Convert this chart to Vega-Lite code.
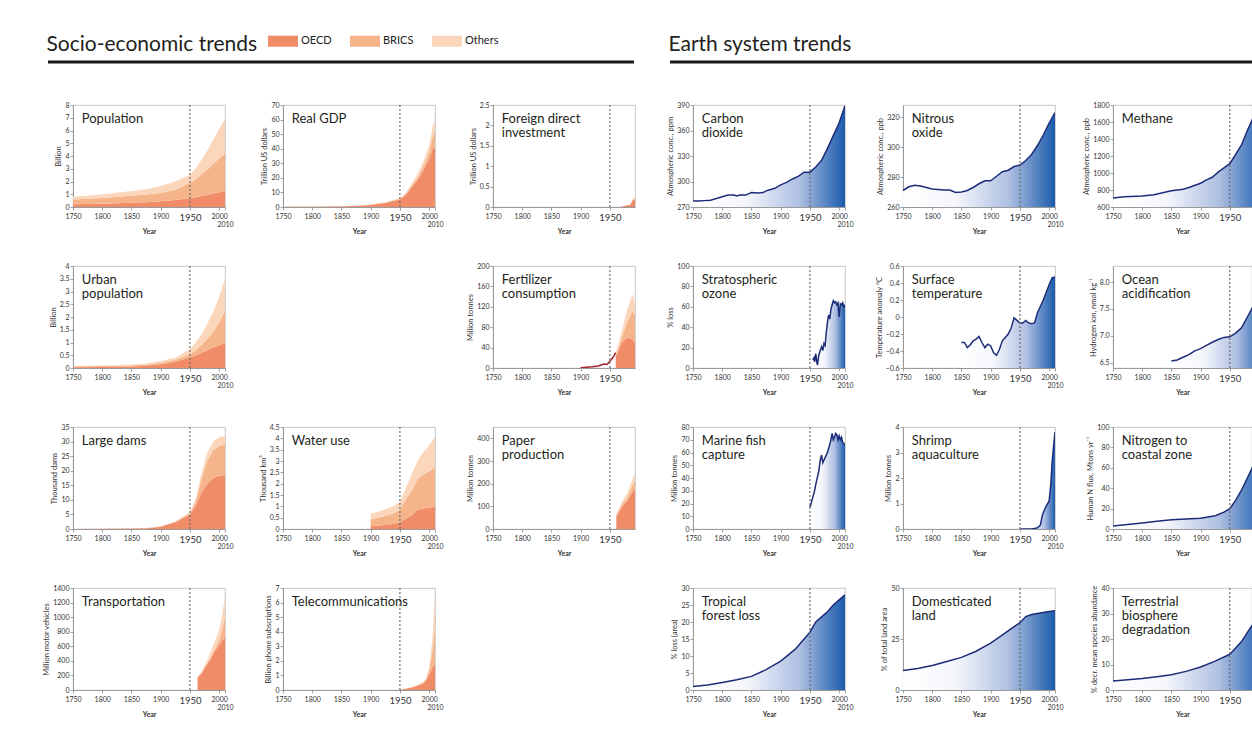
{
"$schema":"https://vega.github.io/schema/vega-lite/v6.json",
"padding":{"left":42,"top":26,"right":0,"bottom":0},
"background":"white",
"bounds":"flush",
"spacing":44,
"config":{
 "font":"Lato",
 "view":{"stroke":"#b9b9b9","strokeWidth":0.8},
 "axis":{"domainColor":"#8c8c8c","tickColor":"#8c8c8c","labelColor":"#333333","titleColor":"#333333","grid":false,"tickSize":3,"labelFontSize":7,"titleFontSize":7.5,"titleFontWeight":"normal","domainWidth":0.8,"tickWidth":0.8,"labelOverlap":false,"tickCount":20},
 "axisY":{"labelPadding":1,"titlePadding":2,"labelOverlap":false,"tickCount":20},
 "axisX":{"labelOverlap":false,"tickCount":20},
 "legend":{"orient":"none","legendX":195,"legendY":-35,"direction":"horizontal","symbolType":"M-1,-0.37H1V0.37H-1Z","symbolSize":900,"symbolStrokeWidth":0,"symbolOpacity":1,"labelFontSize":11,"labelColor":"#222222","labelOffset":3,"columnPadding":18}
},
"datasets":{
 "groups":[{"group":"OECD","k":1},{"group":"BRICS","k":2},{"group":"Others","k":3}],
 "pop":[
  {"year":1750,"OECD":0.22,"BRICS":0.36,"Others":0.22},
  {"year":1800,"OECD":0.26,"BRICS":0.45,"Others":0.27},
  {"year":1850,"OECD":0.33,"BRICS":0.55,"Others":0.38},
  {"year":1875,"OECD":0.38,"BRICS":0.6,"Others":0.42},
  {"year":1900,"OECD":0.45,"BRICS":0.65,"Others":0.55},
  {"year":1925,"OECD":0.55,"BRICS":0.8,"Others":0.65},
  {"year":1950,"OECD":0.7,"BRICS":1.2,"Others":0.62},
  {"year":1960,"OECD":0.77,"BRICS":1.4,"Others":0.85},
  {"year":1970,"OECD":0.86,"BRICS":1.7,"Others":1.14},
  {"year":1980,"OECD":0.95,"BRICS":2.0,"Others":1.5},
  {"year":1990,"OECD":1.05,"BRICS":2.33,"Others":1.92},
  {"year":2000,"OECD":1.15,"BRICS":2.65,"Others":2.32},
  {"year":2010,"OECD":1.24,"BRICS":2.95,"Others":2.71}],
 "gdp":[
  {"year":1750,"OECD":0.15,"BRICS":0.05,"Others":0.05},
  {"year":1800,"OECD":0.2,"BRICS":0.08,"Others":0.05},
  {"year":1850,"OECD":0.45,"BRICS":0.1,"Others":0.1},
  {"year":1875,"OECD":0.75,"BRICS":0.12,"Others":0.13},
  {"year":1900,"OECD":1.4,"BRICS":0.15,"Others":0.25},
  {"year":1913,"OECD":2.2,"BRICS":0.2,"Others":0.3},
  {"year":1925,"OECD":2.7,"BRICS":0.2,"Others":0.3},
  {"year":1940,"OECD":4.3,"BRICS":0.3,"Others":0.4},
  {"year":1950,"OECD":5.2,"BRICS":0.5,"Others":0.5},
  {"year":1960,"OECD":8.3,"BRICS":0.8,"Others":0.9},
  {"year":1970,"OECD":13.3,"BRICS":1.2,"Others":1.5},
  {"year":1980,"OECD":18.5,"BRICS":1.8,"Others":2.4},
  {"year":1990,"OECD":25,"BRICS":2.8,"Others":3.2},
  {"year":2000,"OECD":33,"BRICS":5,"Others":4.5},
  {"year":2007,"OECD":41,"BRICS":9,"Others":7},
  {"year":2009,"OECD":40,"BRICS":10.5,"Others":7.5},
  {"year":2010,"OECD":43.5,"BRICS":11,"Others":8.5}],
 "fdi":[
  {"year":1970,"OECD":0.012,"BRICS":0.001,"Others":0.002},
  {"year":1975,"OECD":0.025,"BRICS":0.002,"Others":0.004},
  {"year":1980,"OECD":0.045,"BRICS":0.003,"Others":0.007},
  {"year":1985,"OECD":0.05,"BRICS":0.004,"Others":0.008},
  {"year":1988,"OECD":0.14,"BRICS":0.006,"Others":0.014},
  {"year":1990,"OECD":0.18,"BRICS":0.01,"Others":0.02},
  {"year":1993,"OECD":0.17,"BRICS":0.04,"Others":0.025},
  {"year":1995,"OECD":0.22,"BRICS":0.05,"Others":0.04},
  {"year":2000,"OECD":1.15,"BRICS":0.08,"Others":0.17},
  {"year":2005,"OECD":0.7,"BRICS":0.15,"Others":0.12},
  {"year":2007,"OECD":1.6,"BRICS":0.25,"Others":0.25},
  {"year":2010,"OECD":0.8,"BRICS":0.3,"Others":0.2}],
 "urban":[
  {"year":1750,"OECD":0.03,"BRICS":0.035,"Others":0.015},
  {"year":1800,"OECD":0.04,"BRICS":0.04,"Others":0.02},
  {"year":1850,"OECD":0.06,"BRICS":0.05,"Others":0.03},
  {"year":1875,"OECD":0.09,"BRICS":0.05,"Others":0.04},
  {"year":1900,"OECD":0.15,"BRICS":0.06,"Others":0.06},
  {"year":1925,"OECD":0.25,"BRICS":0.07,"Others":0.08},
  {"year":1950,"OECD":0.42,"BRICS":0.12,"Others":0.2},
  {"year":1960,"OECD":0.5,"BRICS":0.2,"Others":0.3},
  {"year":1970,"OECD":0.6,"BRICS":0.3,"Others":0.42},
  {"year":1980,"OECD":0.7,"BRICS":0.45,"Others":0.6},
  {"year":1990,"OECD":0.8,"BRICS":0.62,"Others":0.8},
  {"year":2000,"OECD":0.89,"BRICS":0.9,"Others":1.0},
  {"year":2010,"OECD":0.97,"BRICS":1.28,"Others":1.25}],
 "fert":[
  {"year":1960,"OECD":22,"BRICS":3,"Others":5},
  {"year":1965,"OECD":35,"BRICS":6,"Others":8},
  {"year":1970,"OECD":48,"BRICS":10,"Others":12},
  {"year":1975,"OECD":55,"BRICS":20,"Others":18},
  {"year":1980,"OECD":60,"BRICS":32,"Others":24},
  {"year":1985,"OECD":58,"BRICS":45,"Others":28},
  {"year":1988,"OECD":58,"BRICS":55,"Others":32},
  {"year":1990,"OECD":55,"BRICS":55,"Others":30},
  {"year":1993,"OECD":48,"BRICS":55,"Others":22},
  {"year":1995,"OECD":46,"BRICS":60,"Others":25},
  {"year":2000,"OECD":45,"BRICS":70,"Others":25},
  {"year":2005,"OECD":42,"BRICS":80,"Others":28},
  {"year":2010,"OECD":38,"BRICS":95,"Others":35}],
 "fertw":[
  {"year":1900,"value":0.5},{"year":1910,"value":1.5},{"year":1920,"value":2.5},{"year":1930,"value":4},
  {"year":1935,"value":6},{"year":1940,"value":8},{"year":1945,"value":7},{"year":1950,"value":13},
  {"year":1955,"value":20},{"year":1960,"value":30}],
 "dams":[
  {"year":1750,"OECD":0.02,"BRICS":0.005,"Others":0.005},
  {"year":1800,"OECD":0.05,"BRICS":0.01,"Others":0.01},
  {"year":1850,"OECD":0.15,"BRICS":0.02,"Others":0.02},
  {"year":1875,"OECD":0.3,"BRICS":0.03,"Others":0.03},
  {"year":1900,"OECD":0.8,"BRICS":0.05,"Others":0.1},
  {"year":1925,"OECD":2.3,"BRICS":0.15,"Others":0.2},
  {"year":1950,"OECD":5.0,"BRICS":0.4,"Others":0.4},
  {"year":1960,"OECD":8,"BRICS":1.5,"Others":1},
  {"year":1970,"OECD":12.5,"BRICS":5,"Others":1.8},
  {"year":1980,"OECD":15.5,"BRICS":8,"Others":2.8},
  {"year":1990,"OECD":17.4,"BRICS":9.6,"Others":3},
  {"year":2000,"OECD":18.3,"BRICS":10.2,"Others":3},
  {"year":2010,"OECD":18.5,"BRICS":10.4,"Others":3}],
 "water":[
  {"year":1900,"OECD":0.12,"BRICS":0.31,"Others":0.24},
  {"year":1910,"OECD":0.14,"BRICS":0.35,"Others":0.26},
  {"year":1920,"OECD":0.16,"BRICS":0.38,"Others":0.28},
  {"year":1930,"OECD":0.19,"BRICS":0.42,"Others":0.3},
  {"year":1940,"OECD":0.23,"BRICS":0.48,"Others":0.32},
  {"year":1950,"OECD":0.3,"BRICS":0.55,"Others":0.35},
  {"year":1960,"OECD":0.45,"BRICS":0.85,"Others":0.5},
  {"year":1970,"OECD":0.6,"BRICS":1.1,"Others":0.7},
  {"year":1980,"OECD":0.85,"BRICS":1.35,"Others":0.8},
  {"year":1990,"OECD":0.9,"BRICS":1.5,"Others":1.0},
  {"year":2000,"OECD":0.95,"BRICS":1.6,"Others":1.15},
  {"year":2010,"OECD":0.97,"BRICS":1.75,"Others":1.35}],
 "paper":[
  {"year":1961,"OECD":55,"BRICS":5,"Others":7},
  {"year":1970,"OECD":95,"BRICS":10,"Others":12},
  {"year":1980,"OECD":125,"BRICS":15,"Others":20},
  {"year":1990,"OECD":170,"BRICS":30,"Others":30},
  {"year":1993,"OECD":175,"BRICS":35,"Others":32},
  {"year":2000,"OECD":200,"BRICS":60,"Others":40},
  {"year":2010,"OECD":190,"BRICS":130,"Others":60}],
 "transport":[
  {"year":1963,"OECD":165,"BRICS":5,"Others":10},
  {"year":1970,"OECD":230,"BRICS":8,"Others":20},
  {"year":1980,"OECD":360,"BRICS":15,"Others":45},
  {"year":1985,"OECD":420,"BRICS":20,"Others":70},
  {"year":1990,"OECD":500,"BRICS":30,"Others":90},
  {"year":1995,"OECD":560,"BRICS":45,"Others":110},
  {"year":2000,"OECD":620,"BRICS":70,"Others":140},
  {"year":2005,"OECD":680,"BRICS":140,"Others":200},
  {"year":2010,"OECD":725,"BRICS":300,"Others":260}],
 "telecom":[
  {"year":1950,"OECD":0.02,"BRICS":0.001,"Others":0.003},
  {"year":1960,"OECD":0.08,"BRICS":0.003,"Others":0.01},
  {"year":1970,"OECD":0.17,"BRICS":0.01,"Others":0.02},
  {"year":1980,"OECD":0.3,"BRICS":0.02,"Others":0.04},
  {"year":1990,"OECD":0.45,"BRICS":0.04,"Others":0.07},
  {"year":1995,"OECD":0.65,"BRICS":0.1,"Others":0.1},
  {"year":2000,"OECD":1.05,"BRICS":0.3,"Others":0.25},
  {"year":2005,"OECD":1.5,"BRICS":1.0,"Others":0.8},
  {"year":2010,"OECD":1.8,"BRICS":2.5,"Others":2.2}],
 "co2":[
  {"year":1750,"value":277},{"year":1760,"value":277},{"year":1770,"value":277.5},{"year":1780,"value":278},{"year":1790,"value":280},
  {"year":1800,"value":282},{"year":1810,"value":284},{"year":1820,"value":284},{"year":1825,"value":283},{"year":1830,"value":284},
  {"year":1840,"value":284},{"year":1850,"value":287},{"year":1860,"value":286.5},{"year":1870,"value":287},{"year":1875,"value":289},
  {"year":1880,"value":290},{"year":1890,"value":292},{"year":1900,"value":296},{"year":1910,"value":299},{"year":1920,"value":303},
  {"year":1930,"value":306},{"year":1940,"value":311},{"year":1950,"value":311},{"year":1960,"value":317},{"year":1970,"value":325},
  {"year":1980,"value":339},{"year":1990,"value":354},{"year":2000,"value":369},{"year":2010,"value":389}],
 "n2o":[
  {"year":1750,"value":271},{"year":1760,"value":273.5},{"year":1770,"value":274.5},{"year":1780,"value":274},{"year":1790,"value":273},
  {"year":1800,"value":272},{"year":1810,"value":271.7},{"year":1820,"value":271.3},{"year":1830,"value":271.3},{"year":1840,"value":269.7},
  {"year":1850,"value":270},{"year":1860,"value":271},{"year":1870,"value":273},{"year":1880,"value":275.5},{"year":1890,"value":277.5},
  {"year":1900,"value":277.5},{"year":1910,"value":280.5},{"year":1920,"value":283.5},{"year":1930,"value":284.5},{"year":1940,"value":287},
  {"year":1950,"value":288},{"year":1960,"value":291},{"year":1970,"value":295},{"year":1980,"value":301},{"year":1990,"value":308},
  {"year":2000,"value":316},{"year":2010,"value":323}],
 "ch4":[
  {"year":1750,"value":705},{"year":1770,"value":720},{"year":1800,"value":730},{"year":1820,"value":745},{"year":1850,"value":790},
  {"year":1870,"value":810},{"year":1880,"value":830},{"year":1900,"value":880},{"year":1910,"value":920},{"year":1920,"value":950},
  {"year":1930,"value":1010},{"year":1940,"value":1060},{"year":1950,"value":1110},{"year":1960,"value":1220},{"year":1970,"value":1330},
  {"year":1980,"value":1500},{"year":1990,"value":1650},{"year":2000,"value":1750},{"year":2010,"value":1800}],
 "ozone":[
  {"year":1955,"value":8},{"year":1957,"value":10},{"year":1958,"value":6},{"year":1960,"value":14},{"year":1962,"value":5},
  {"year":1963,"value":3},{"year":1965,"value":12},{"year":1968,"value":18},{"year":1970,"value":21},{"year":1972,"value":17},
  {"year":1974,"value":24},{"year":1976,"value":22},{"year":1978,"value":35},{"year":1980,"value":45},{"year":1982,"value":52},
  {"year":1984,"value":48},{"year":1986,"value":58},{"year":1988,"value":62},{"year":1990,"value":66},{"year":1992,"value":64},
  {"year":1994,"value":65},{"year":1996,"value":62},{"year":1998,"value":64},{"year":2000,"value":50},{"year":2002,"value":63},
  {"year":2004,"value":62},{"year":2006,"value":64},{"year":2008,"value":60},{"year":2010,"value":62}],
 "temp":[
  {"year":1850,"value":-0.3},{"year":1855,"value":-0.3},{"year":1860,"value":-0.36},{"year":1865,"value":-0.33},{"year":1870,"value":-0.28},
  {"year":1875,"value":-0.26},{"year":1880,"value":-0.23},{"year":1885,"value":-0.3},{"year":1890,"value":-0.36},{"year":1895,"value":-0.32},
  {"year":1900,"value":-0.34},{"year":1905,"value":-0.42},{"year":1910,"value":-0.45},{"year":1915,"value":-0.38},{"year":1920,"value":-0.28},
  {"year":1930,"value":-0.2},{"year":1935,"value":-0.13},{"year":1940,"value":-0.01},{"year":1945,"value":-0.04},{"year":1950,"value":-0.07},
  {"year":1955,"value":-0.07},{"year":1960,"value":-0.04},{"year":1965,"value":-0.07},{"year":1970,"value":-0.08},{"year":1975,"value":-0.07},
  {"year":1980,"value":0.05},{"year":1990,"value":0.2},{"year":2000,"value":0.38},{"year":2005,"value":0.46},{"year":2010,"value":0.47}],
 "ocean":[
  {"year":1850,"value":6.53},{"year":1860,"value":6.55},{"year":1870,"value":6.6},{"year":1880,"value":6.65},{"year":1890,"value":6.72},
  {"year":1900,"value":6.76},{"year":1910,"value":6.82},{"year":1920,"value":6.88},{"year":1930,"value":6.93},{"year":1940,"value":6.97},
  {"year":1950,"value":6.98},{"year":1960,"value":7.05},{"year":1970,"value":7.15},{"year":1980,"value":7.35},{"year":1990,"value":7.55},
  {"year":2000,"value":7.75},{"year":2010,"value":8.0}],
 "fish":[
  {"year":1950,"value":17},{"year":1952,"value":20},{"year":1955,"value":25},{"year":1958,"value":30},{"year":1960,"value":35},
  {"year":1965,"value":45},{"year":1968,"value":55},{"year":1970,"value":58},{"year":1972,"value":52},{"year":1975,"value":55},
  {"year":1980,"value":60},{"year":1985,"value":68},{"year":1988,"value":75},{"year":1990,"value":70},{"year":1992,"value":72},
  {"year":1994,"value":75},{"year":1996,"value":74},{"year":1998,"value":70},{"year":2000,"value":73},{"year":2002,"value":70},
  {"year":2004,"value":72},{"year":2006,"value":68},{"year":2008,"value":67},{"year":2010,"value":66}],
 "shrimp":[
  {"year":1950,"value":0},{"year":1970,"value":0.01},{"year":1975,"value":0.02},{"year":1980,"value":0.05},{"year":1985,"value":0.15},
  {"year":1988,"value":0.5},{"year":1990,"value":0.65},{"year":1995,"value":0.9},{"year":2000,"value":1.1},{"year":2003,"value":1.8},
  {"year":2005,"value":2.6},{"year":2007,"value":3.1},{"year":2010,"value":3.8}],
 "nitrogen":[
  {"year":1750,"value":3},{"year":1775,"value":4.5},{"year":1800,"value":6},{"year":1825,"value":7.5},{"year":1850,"value":9},
  {"year":1875,"value":9.8},{"year":1900,"value":10.5},{"year":1925,"value":13},{"year":1940,"value":16.5},{"year":1950,"value":20},
  {"year":1960,"value":28},{"year":1970,"value":38},{"year":1980,"value":50},{"year":1990,"value":62},{"year":2000,"value":72},{"year":2010,"value":80}],
 "forest":[
  {"year":1750,"value":1},{"year":1775,"value":1.5},{"year":1800,"value":2.2},{"year":1825,"value":3},{"year":1850,"value":4},
  {"year":1875,"value":6},{"year":1900,"value":8.5},{"year":1925,"value":12},{"year":1950,"value":17},{"year":1960,"value":20},
  {"year":1970,"value":21.5},{"year":1980,"value":23},{"year":1990,"value":25},{"year":2000,"value":26.5},{"year":2010,"value":28}],
 "domland":[
  {"year":1750,"value":9.5},{"year":1775,"value":10.5},{"year":1800,"value":12},{"year":1825,"value":14},{"year":1850,"value":16},
  {"year":1875,"value":19},{"year":1900,"value":23},{"year":1925,"value":28},{"year":1950,"value":33},{"year":1960,"value":36},
  {"year":1970,"value":37},{"year":1980,"value":37.5},{"year":1990,"value":38},{"year":2000,"value":38.5},{"year":2010,"value":38.8}],
 "terr":[
  {"year":1750,"value":3.5},{"year":1775,"value":4},{"year":1800,"value":4.5},{"year":1825,"value":5.2},{"year":1850,"value":6},
  {"year":1875,"value":7.3},{"year":1900,"value":9},{"year":1925,"value":11.3},{"year":1950,"value":14},{"year":1960,"value":16.5},
  {"year":1970,"value":19},{"year":1980,"value":22.5},{"year":1990,"value":26},{"year":2000,"value":29},{"year":2010,"value":31}]
},
"vconcat":[
 {"hconcat":[
  {"width":561,"height":2,"view":{"stroke":null},
   "title":{"text":"Socio-economic trends","anchor":"start","fontSize":21,"fontWeight":"normal","color":"#231f20","baseline":"alphabetic","offset":-11},
   "data":{"values":[{}]},
   "mark":{"type":"rule","color":"#1a1a1a","strokeWidth":3,"xOffset":-25},
   "encoding":{"x":{"datum":0,"scale":{"domain":[0,1]},"axis":null},"x2":{"datum":1},"y":{"datum":0.5,"scale":{"domain":[0,1]},"axis":null}}},
  {"width":582,"height":2,"view":{"stroke":null},
   "title":{"text":"Earth system trends","anchor":"start","fontSize":21,"fontWeight":"normal","color":"#231f20","baseline":"alphabetic","offset":-11},
   "data":{"values":[{}]},
   "mark":{"type":"rule","color":"#1a1a1a","strokeWidth":3},
   "encoding":{"x":{"datum":0,"scale":{"domain":[0,1]},"axis":null},"x2":{"datum":1},"y":{"datum":0.5,"scale":{"domain":[0,1]},"axis":null}}}
 ],"spacing":36,"bounds":"flush"},
 {"columns":6,"spacing":{"row":59,"column":58},"bounds":"flush","align":"each",
  "concat":[
   {"width":152,"height":102,"layer":[
    {"data":{"name":"pop"},"transform":[{"fold":["OECD","BRICS","Others"],"as":["group","value"]},{"lookup":"group","from":{"data":{"name":"groups"},"key":"group","fields":["k"]}}],
     "mark":{"type":"area","opacity":1,"clip":true},
     "encoding":{
      "x":{"field":"year","type":"quantitative","scale":{"domain":[1750,2010],"nice":false,"zero":false},"axis":{"title":"Year","format":"d","tickCount":20,"values":[1750,1800,1850,1900,1950,2000,2010],"labelFlush":false,"labelOverlap":false,"titleY":20,"titleFontWeight":"bold","titleFontSize":7,"labelFontSize":{"condition":{"test":"datum.value===1950","value":9.5},"value":7},"labelPadding":{"condition":{"test":"datum.value===2010","value":10},"value":2}}},
      "y":{"field":"value","type":"quantitative","stack":"zero","scale":{"domain":[0,8],"nice":false},"axis":{"title":"Billion","format":".4~g","tickCount":20,"values":[0,1,2,3,4,5,6,7,8],"labelOverlap":false}},
      "color":{"field":"group","type":"nominal","scale":{"domain":["OECD","BRICS","Others"],"range":["#f08c68","#f6b48a","#fbd6bb"]},"legend":{"title":null}},
      "order":{"field":"k","type":"quantitative"}}},
    {"data":{"values":[{}]},"mark":{"type":"rule","strokeDash":[2,2],"color":"#6d6d6d","strokeWidth":1.2},"encoding":{"x":{"datum":1950}}},
    {"data":{"values":[{}]},"mark":{"type":"text","text":"Population","align":"left","baseline":"top","fontSize":13,"dy":8,"color":"#231f20","lineHeight":14},"encoding":{"x":{"datum":1765},"y":{"datum":8}}}
   ]},
   {"width":152,"height":102,"layer":[
    {"data":{"name":"gdp"},"transform":[{"fold":["OECD","BRICS","Others"],"as":["group","value"]},{"lookup":"group","from":{"data":{"name":"groups"},"key":"group","fields":["k"]}}],
     "mark":{"type":"area","opacity":1,"clip":true},
     "encoding":{
      "x":{"field":"year","type":"quantitative","scale":{"domain":[1750,2010],"nice":false,"zero":false},"axis":{"title":"Year","format":"d","tickCount":20,"values":[1750,1800,1850,1900,1950,2000,2010],"labelFlush":false,"labelOverlap":false,"titleY":20,"titleFontWeight":"bold","titleFontSize":7,"labelFontSize":{"condition":{"test":"datum.value===1950","value":9.5},"value":7},"labelPadding":{"condition":{"test":"datum.value===2010","value":10},"value":2}}},
      "y":{"field":"value","type":"quantitative","stack":"zero","scale":{"domain":[0,70],"nice":false},"axis":{"title":"Trillion US dollars","format":".4~g","tickCount":20,"values":[0,10,20,30,40,50,60,70],"labelOverlap":false}},
      "color":{"field":"group","type":"nominal","scale":{"domain":["OECD","BRICS","Others"],"range":["#f08c68","#f6b48a","#fbd6bb"]},"legend":{"title":null}},
      "order":{"field":"k","type":"quantitative"}}},
    {"data":{"values":[{}]},"mark":{"type":"rule","strokeDash":[2,2],"color":"#6d6d6d","strokeWidth":1.2},"encoding":{"x":{"datum":1950}}},
    {"data":{"values":[{}]},"mark":{"type":"text","text":"Real GDP","align":"left","baseline":"top","fontSize":13,"dy":8,"color":"#231f20","lineHeight":14},"encoding":{"x":{"datum":1765},"y":{"datum":70}}}
   ]},
   {"width":142,"height":102,"layer":[
    {"data":{"name":"fdi"},"transform":[{"fold":["OECD","BRICS","Others"],"as":["group","value"]},{"lookup":"group","from":{"data":{"name":"groups"},"key":"group","fields":["k"]}}],
     "mark":{"type":"area","opacity":1,"clip":true},
     "encoding":{
      "x":{"field":"year","type":"quantitative","scale":{"domain":[1750,1993],"nice":false,"zero":false},"axis":{"title":"Year","format":"d","tickCount":20,"values":[1750,1800,1850,1900,1950],"labelFlush":false,"labelOverlap":false,"titleY":20,"titleFontWeight":"bold","titleFontSize":7,"labelFontSize":{"condition":{"test":"datum.value===1950","value":9.5},"value":7},"labelPadding":2}},
      "y":{"field":"value","type":"quantitative","stack":"zero","scale":{"domain":[0,2.5],"nice":false},"axis":{"title":"Trillion US dollars","format":".4~g","tickCount":20,"values":[0,0.5,1,1.5,2,2.5],"labelOverlap":false}},
      "color":{"field":"group","type":"nominal","scale":{"domain":["OECD","BRICS","Others"],"range":["#f08c68","#f6b48a","#fbd6bb"]},"legend":{"title":null}},
      "order":{"field":"k","type":"quantitative"}}},
    {"data":{"values":[{}]},"mark":{"type":"rule","strokeDash":[2,2],"color":"#6d6d6d","strokeWidth":1.2},"encoding":{"x":{"datum":1950}}},
    {"data":{"values":[{}]},"mark":{"type":"text","text":["Foreign direct","investment"],"align":"left","baseline":"top","fontSize":13,"dy":8,"color":"#231f20","lineHeight":14},"encoding":{"x":{"datum":1765},"y":{"datum":2.5}}}
   ]},
   {"width":152,"height":102,"layer":[
    {"data":{"name":"co2"},"encoding":{
      "x":{"field":"year","type":"quantitative","scale":{"domain":[1750,2010],"nice":false,"zero":false},"axis":{"title":"Year","format":"d","tickCount":20,"values":[1750,1800,1850,1900,1950,2000,2010],"labelFlush":false,"labelOverlap":false,"titleY":20,"titleFontWeight":"bold","titleFontSize":7,"labelFontSize":{"condition":{"test":"datum.value===1950","value":9.5},"value":7},"labelPadding":{"condition":{"test":"datum.value===2010","value":10},"value":2}}},
      "y":{"field":"value","type":"quantitative","scale":{"domain":[270,390],"nice":false,"zero":false},"axis":{"title":"Atmospheric conc., ppm","format":".4~g","tickCount":20,"values":[270,300,330,360,390],"labelOverlap":false}}},
     "layer":[
      {"mark":{"type":"area","opacity":1,"clip":true,"fill":{"gradient":"linear","x1":0,"y1":0,"x2":1,"y2":0,"stops":[{"offset":0,"color":"#ffffff"},{"offset":0.35,"color":"#f4f6fb"},{"offset":0.7,"color":"#aebfe2"},{"offset":1,"color":"#1b5cac"}]}},"encoding":{"y2":{"datum":270}}},
      {"mark":{"type":"line","color":"#1d2c78","strokeWidth":1.5,"clip":true}}]},
    {"data":{"values":[{}]},"mark":{"type":"rule","strokeDash":[2,2],"color":"#6d6d6d","strokeWidth":1.2},"encoding":{"x":{"datum":1950}}},
    {"data":{"values":[{}]},"mark":{"type":"text","text":["Carbon","dioxide"],"align":"left","baseline":"top","fontSize":13,"dy":8,"color":"#231f20","lineHeight":14},"encoding":{"x":{"datum":1765},"y":{"datum":390}}}
   ]},
   {"width":152,"height":102,"layer":[
    {"data":{"name":"n2o"},"encoding":{
      "x":{"field":"year","type":"quantitative","scale":{"domain":[1750,2010],"nice":false,"zero":false},"axis":{"title":"Year","format":"d","tickCount":20,"values":[1750,1800,1850,1900,1950,2000,2010],"labelFlush":false,"labelOverlap":false,"titleY":20,"titleFontWeight":"bold","titleFontSize":7,"labelFontSize":{"condition":{"test":"datum.value===1950","value":9.5},"value":7},"labelPadding":{"condition":{"test":"datum.value===2010","value":10},"value":2}}},
      "y":{"field":"value","type":"quantitative","scale":{"domain":[260,328],"nice":false,"zero":false},"axis":{"title":"Atmospheric conc., ppb","format":".4~g","tickCount":20,"values":[260,280,300,320],"labelOverlap":false}}},
     "layer":[
      {"mark":{"type":"area","opacity":1,"clip":true,"fill":{"gradient":"linear","x1":0,"y1":0,"x2":1,"y2":0,"stops":[{"offset":0,"color":"#ffffff"},{"offset":0.35,"color":"#f4f6fb"},{"offset":0.7,"color":"#aebfe2"},{"offset":1,"color":"#1b5cac"}]}},"encoding":{"y2":{"datum":260}}},
      {"mark":{"type":"line","color":"#1d2c78","strokeWidth":1.5,"clip":true}}]},
    {"data":{"values":[{}]},"mark":{"type":"rule","strokeDash":[2,2],"color":"#6d6d6d","strokeWidth":1.2},"encoding":{"x":{"datum":1950}}},
    {"data":{"values":[{}]},"mark":{"type":"text","text":["Nitrous","oxide"],"align":"left","baseline":"top","fontSize":13,"dy":8,"color":"#231f20","lineHeight":14},"encoding":{"x":{"datum":1765},"y":{"datum":328}}}
   ]},
   {"width":139,"height":102,"layer":[
    {"data":{"name":"ch4"},"encoding":{
      "x":{"field":"year","type":"quantitative","scale":{"domain":[1750,1988],"nice":false,"zero":false},"axis":{"title":"Year","format":"d","tickCount":20,"values":[1750,1800,1850,1900,1950],"labelFlush":false,"labelOverlap":false,"titleY":20,"titleFontWeight":"bold","titleFontSize":7,"labelFontSize":{"condition":{"test":"datum.value===1950","value":9.5},"value":7},"labelPadding":2}},
      "y":{"field":"value","type":"quantitative","scale":{"domain":[600,1800],"nice":false,"zero":false},"axis":{"title":"Atmospheric conc., ppb","format":"d","tickCount":20,"values":[600,800,1000,1200,1400,1600,1800],"labelOverlap":false}}},
     "layer":[
      {"mark":{"type":"area","opacity":1,"clip":true,"fill":{"gradient":"linear","x1":0,"y1":0,"x2":1,"y2":0,"stops":[{"offset":0,"color":"#ffffff"},{"offset":0.35,"color":"#f4f6fb"},{"offset":0.7,"color":"#aebfe2"},{"offset":1,"color":"#1b5cac"}]}},"encoding":{"y2":{"datum":600}}},
      {"mark":{"type":"line","color":"#1d2c78","strokeWidth":1.5,"clip":true}}]},
    {"data":{"values":[{}]},"mark":{"type":"rule","strokeDash":[2,2],"color":"#6d6d6d","strokeWidth":1.2},"encoding":{"x":{"datum":1950}}},
    {"data":{"values":[{}]},"mark":{"type":"text","text":"Methane","align":"left","baseline":"top","fontSize":13,"dy":8,"color":"#231f20","lineHeight":14},"encoding":{"x":{"datum":1765},"y":{"datum":1800}}}
   ]},

   {"width":152,"height":102,"layer":[
    {"data":{"name":"urban"},"transform":[{"fold":["OECD","BRICS","Others"],"as":["group","value"]},{"lookup":"group","from":{"data":{"name":"groups"},"key":"group","fields":["k"]}}],
     "mark":{"type":"area","opacity":1,"clip":true},
     "encoding":{
      "x":{"field":"year","type":"quantitative","scale":{"domain":[1750,2010],"nice":false,"zero":false},"axis":{"title":"Year","format":"d","tickCount":20,"values":[1750,1800,1850,1900,1950,2000,2010],"labelFlush":false,"labelOverlap":false,"titleY":20,"titleFontWeight":"bold","titleFontSize":7,"labelFontSize":{"condition":{"test":"datum.value===1950","value":9.5},"value":7},"labelPadding":{"condition":{"test":"datum.value===2010","value":10},"value":2}}},
      "y":{"field":"value","type":"quantitative","stack":"zero","scale":{"domain":[0,4],"nice":false},"axis":{"title":"Billion","format":".4~g","tickCount":20,"values":[0,0.5,1,1.5,2,2.5,3,3.5,4],"labelOverlap":false}},
      "color":{"field":"group","type":"nominal","scale":{"domain":["OECD","BRICS","Others"],"range":["#f08c68","#f6b48a","#fbd6bb"]},"legend":{"title":null}},
      "order":{"field":"k","type":"quantitative"}}},
    {"data":{"values":[{}]},"mark":{"type":"rule","strokeDash":[2,2],"color":"#6d6d6d","strokeWidth":1.2},"encoding":{"x":{"datum":1950}}},
    {"data":{"values":[{}]},"mark":{"type":"text","text":["Urban","population"],"align":"left","baseline":"top","fontSize":13,"dy":8,"color":"#231f20","lineHeight":14},"encoding":{"x":{"datum":1765},"y":{"datum":4}}}
   ]},
   {"width":152,"height":102,"view":{"stroke":null},"data":{"values":[{}]},"mark":{"type":"point","opacity":0}},
   {"width":142,"height":102,"layer":[
    {"data":{"name":"fert"},"transform":[{"fold":["OECD","BRICS","Others"],"as":["group","value"]},{"lookup":"group","from":{"data":{"name":"groups"},"key":"group","fields":["k"]}}],
     "mark":{"type":"area","opacity":1,"clip":true},
     "encoding":{
      "x":{"field":"year","type":"quantitative","scale":{"domain":[1750,1993],"nice":false,"zero":false},"axis":{"title":"Year","format":"d","tickCount":20,"values":[1750,1800,1850,1900,1950],"labelFlush":false,"labelOverlap":false,"titleY":20,"titleFontWeight":"bold","titleFontSize":7,"labelFontSize":{"condition":{"test":"datum.value===1950","value":9.5},"value":7},"labelPadding":2}},
      "y":{"field":"value","type":"quantitative","stack":"zero","scale":{"domain":[0,200],"nice":false},"axis":{"title":"Million tonnes","format":".4~g","tickCount":20,"values":[0,40,80,120,160,200],"labelOverlap":false}},
      "color":{"field":"group","type":"nominal","scale":{"domain":["OECD","BRICS","Others"],"range":["#f08c68","#f6b48a","#fbd6bb"]},"legend":{"title":null}},
      "order":{"field":"k","type":"quantitative"}}},
    {"data":{"name":"fertw"},"mark":{"type":"line","color":"#a3222b","strokeWidth":1.5,"clip":true},"encoding":{"x":{"field":"year","type":"quantitative","title":"Year"},"y":{"field":"value","type":"quantitative","title":"Million tonnes"}}},
    {"data":{"values":[{}]},"mark":{"type":"rule","strokeDash":[2,2],"color":"#6d6d6d","strokeWidth":1.2},"encoding":{"x":{"datum":1950}}},
    {"data":{"values":[{}]},"mark":{"type":"text","text":["Fertilizer","consumption"],"align":"left","baseline":"top","fontSize":13,"dy":8,"color":"#231f20","lineHeight":14},"encoding":{"x":{"datum":1765},"y":{"datum":200}}}
   ]},
   {"width":152,"height":102,"layer":[
    {"data":{"name":"ozone"},"encoding":{
      "x":{"field":"year","type":"quantitative","scale":{"domain":[1750,2010],"nice":false,"zero":false},"axis":{"title":"Year","format":"d","tickCount":20,"values":[1750,1800,1850,1900,1950,2000,2010],"labelFlush":false,"labelOverlap":false,"titleY":20,"titleFontWeight":"bold","titleFontSize":7,"labelFontSize":{"condition":{"test":"datum.value===1950","value":9.5},"value":7},"labelPadding":{"condition":{"test":"datum.value===2010","value":10},"value":2}}},
      "y":{"field":"value","type":"quantitative","scale":{"domain":[0,100],"nice":false,"zero":false},"axis":{"title":"% loss","format":".4~g","tickCount":20,"values":[0,20,40,60,80,100],"labelOverlap":false}}},
     "layer":[
      {"mark":{"type":"area","opacity":1,"clip":true,"fill":{"gradient":"linear","x1":0,"y1":0,"x2":1,"y2":0,"stops":[{"offset":0,"color":"#ffffff"},{"offset":0.35,"color":"#f4f6fb"},{"offset":0.7,"color":"#aebfe2"},{"offset":1,"color":"#1b5cac"}]}},"encoding":{"y2":{"datum":0}}},
      {"mark":{"type":"line","color":"#1d2c78","strokeWidth":1.5,"clip":true}}]},
    {"data":{"values":[{}]},"mark":{"type":"rule","strokeDash":[2,2],"color":"#6d6d6d","strokeWidth":1.2},"encoding":{"x":{"datum":1950}}},
    {"data":{"values":[{}]},"mark":{"type":"text","text":["Stratospheric","ozone"],"align":"left","baseline":"top","fontSize":13,"dy":8,"color":"#231f20","lineHeight":14},"encoding":{"x":{"datum":1765},"y":{"datum":100}}}
   ]},
   {"width":152,"height":102,"layer":[
    {"data":{"name":"temp"},"encoding":{
      "x":{"field":"year","type":"quantitative","scale":{"domain":[1750,2010],"nice":false,"zero":false},"axis":{"title":"Year","format":"d","tickCount":20,"values":[1750,1800,1850,1900,1950,2000,2010],"labelFlush":false,"labelOverlap":false,"titleY":20,"titleFontWeight":"bold","titleFontSize":7,"labelFontSize":{"condition":{"test":"datum.value===1950","value":9.5},"value":7},"labelPadding":{"condition":{"test":"datum.value===2010","value":10},"value":2}}},
      "y":{"field":"value","type":"quantitative","scale":{"domain":[-0.6,0.6],"nice":false,"zero":false},"axis":{"title":"Temperature anomaly °C","format":".4~g","tickCount":20,"values":[-0.6,-0.4,-0.2,0,0.2,0.4,0.6],"labelOverlap":false}}},
     "layer":[
      {"mark":{"type":"area","opacity":1,"clip":true,"fill":{"gradient":"linear","x1":0,"y1":0,"x2":1,"y2":0,"stops":[{"offset":0,"color":"#ffffff"},{"offset":0.35,"color":"#f4f6fb"},{"offset":0.7,"color":"#aebfe2"},{"offset":1,"color":"#1b5cac"}]}},"encoding":{"y2":{"datum":-0.6}}},
      {"mark":{"type":"line","color":"#1d2c78","strokeWidth":1.5,"clip":true}}]},
    {"data":{"values":[{}]},"mark":{"type":"rule","strokeDash":[2,2],"color":"#6d6d6d","strokeWidth":1.2},"encoding":{"x":{"datum":1950}}},
    {"data":{"values":[{}]},"mark":{"type":"text","text":["Surface","temperature"],"align":"left","baseline":"top","fontSize":13,"dy":8,"color":"#231f20","lineHeight":14},"encoding":{"x":{"datum":1765},"y":{"datum":0.6}}}
   ]},
   {"width":139,"height":102,"layer":[
    {"data":{"name":"ocean"},"encoding":{
      "x":{"field":"year","type":"quantitative","scale":{"domain":[1750,1988],"nice":false,"zero":false},"axis":{"title":"Year","format":"d","tickCount":20,"values":[1750,1800,1850,1900,1950],"labelFlush":false,"labelOverlap":false,"titleY":20,"titleFontWeight":"bold","titleFontSize":7,"labelFontSize":{"condition":{"test":"datum.value===1950","value":9.5},"value":7},"labelPadding":2}},
      "y":{"field":"value","type":"quantitative","scale":{"domain":[6.4,8.3],"nice":false,"zero":false},"axis":{"title":"Hydrogen ion, nmol kg⁻¹","format":".1f","tickCount":20,"values":[6.5,7,7.5,8],"labelOverlap":false}}},
     "layer":[
      {"mark":{"type":"area","opacity":1,"clip":true,"fill":{"gradient":"linear","x1":0,"y1":0,"x2":1,"y2":0,"stops":[{"offset":0,"color":"#ffffff"},{"offset":0.35,"color":"#f4f6fb"},{"offset":0.7,"color":"#aebfe2"},{"offset":1,"color":"#1b5cac"}]}},"encoding":{"y2":{"datum":6.4}}},
      {"mark":{"type":"line","color":"#1d2c78","strokeWidth":1.5,"clip":true}}]},
    {"data":{"values":[{}]},"mark":{"type":"rule","strokeDash":[2,2],"color":"#6d6d6d","strokeWidth":1.2},"encoding":{"x":{"datum":1950}}},
    {"data":{"values":[{}]},"mark":{"type":"text","text":["Ocean","acidification"],"align":"left","baseline":"top","fontSize":13,"dy":8,"color":"#231f20","lineHeight":14},"encoding":{"x":{"datum":1765},"y":{"datum":8.3}}}
   ]},

   {"width":152,"height":102,"layer":[
    {"data":{"name":"dams"},"transform":[{"fold":["OECD","BRICS","Others"],"as":["group","value"]},{"lookup":"group","from":{"data":{"name":"groups"},"key":"group","fields":["k"]}}],
     "mark":{"type":"area","opacity":1,"clip":true},
     "encoding":{
      "x":{"field":"year","type":"quantitative","scale":{"domain":[1750,2010],"nice":false,"zero":false},"axis":{"title":"Year","format":"d","tickCount":20,"values":[1750,1800,1850,1900,1950,2000,2010],"labelFlush":false,"labelOverlap":false,"titleY":20,"titleFontWeight":"bold","titleFontSize":7,"labelFontSize":{"condition":{"test":"datum.value===1950","value":9.5},"value":7},"labelPadding":{"condition":{"test":"datum.value===2010","value":10},"value":2}}},
      "y":{"field":"value","type":"quantitative","stack":"zero","scale":{"domain":[0,35],"nice":false},"axis":{"title":"Thousand dams","format":".4~g","tickCount":20,"values":[0,5,10,15,20,25,30,35],"labelOverlap":false}},
      "color":{"field":"group","type":"nominal","scale":{"domain":["OECD","BRICS","Others"],"range":["#f08c68","#f6b48a","#fbd6bb"]},"legend":{"title":null}},
      "order":{"field":"k","type":"quantitative"}}},
    {"data":{"values":[{}]},"mark":{"type":"rule","strokeDash":[2,2],"color":"#6d6d6d","strokeWidth":1.2},"encoding":{"x":{"datum":1950}}},
    {"data":{"values":[{}]},"mark":{"type":"text","text":"Large dams","align":"left","baseline":"top","fontSize":13,"dy":8,"color":"#231f20","lineHeight":14},"encoding":{"x":{"datum":1765},"y":{"datum":35}}}
   ]},
   {"width":152,"height":102,"layer":[
    {"data":{"name":"water"},"transform":[{"fold":["OECD","BRICS","Others"],"as":["group","value"]},{"lookup":"group","from":{"data":{"name":"groups"},"key":"group","fields":["k"]}}],
     "mark":{"type":"area","opacity":1,"clip":true},
     "encoding":{
      "x":{"field":"year","type":"quantitative","scale":{"domain":[1750,2010],"nice":false,"zero":false},"axis":{"title":"Year","format":"d","tickCount":20,"values":[1750,1800,1850,1900,1950,2000,2010],"labelFlush":false,"labelOverlap":false,"titleY":20,"titleFontWeight":"bold","titleFontSize":7,"labelFontSize":{"condition":{"test":"datum.value===1950","value":9.5},"value":7},"labelPadding":{"condition":{"test":"datum.value===2010","value":10},"value":2}}},
      "y":{"field":"value","type":"quantitative","stack":"zero","scale":{"domain":[0,4.5],"nice":false},"axis":{"title":"Thousand km³","format":".4~g","tickCount":20,"values":[0,0.5,1,1.5,2,2.5,3,3.5,4,4.5],"labelOverlap":false}},
      "color":{"field":"group","type":"nominal","scale":{"domain":["OECD","BRICS","Others"],"range":["#f08c68","#f6b48a","#fbd6bb"]},"legend":{"title":null}},
      "order":{"field":"k","type":"quantitative"}}},
    {"data":{"values":[{}]},"mark":{"type":"rule","strokeDash":[2,2],"color":"#6d6d6d","strokeWidth":1.2},"encoding":{"x":{"datum":1950}}},
    {"data":{"values":[{}]},"mark":{"type":"text","text":"Water use","align":"left","baseline":"top","fontSize":13,"dy":8,"color":"#231f20","lineHeight":14},"encoding":{"x":{"datum":1765},"y":{"datum":4.5}}}
   ]},
   {"width":142,"height":102,"layer":[
    {"data":{"name":"paper"},"transform":[{"fold":["OECD","BRICS","Others"],"as":["group","value"]},{"lookup":"group","from":{"data":{"name":"groups"},"key":"group","fields":["k"]}}],
     "mark":{"type":"area","opacity":1,"clip":true},
     "encoding":{
      "x":{"field":"year","type":"quantitative","scale":{"domain":[1750,1993],"nice":false,"zero":false},"axis":{"title":"Year","format":"d","tickCount":20,"values":[1750,1800,1850,1900,1950],"labelFlush":false,"labelOverlap":false,"titleY":20,"titleFontWeight":"bold","titleFontSize":7,"labelFontSize":{"condition":{"test":"datum.value===1950","value":9.5},"value":7},"labelPadding":2}},
      "y":{"field":"value","type":"quantitative","stack":"zero","scale":{"domain":[0,450],"nice":false},"axis":{"title":"Million tonnes","format":".4~g","tickCount":20,"values":[0,100,200,300,400],"labelOverlap":false}},
      "color":{"field":"group","type":"nominal","scale":{"domain":["OECD","BRICS","Others"],"range":["#f08c68","#f6b48a","#fbd6bb"]},"legend":{"title":null}},
      "order":{"field":"k","type":"quantitative"}}},
    {"data":{"values":[{}]},"mark":{"type":"rule","strokeDash":[2,2],"color":"#6d6d6d","strokeWidth":1.2},"encoding":{"x":{"datum":1950}}},
    {"data":{"values":[{}]},"mark":{"type":"text","text":["Paper","production"],"align":"left","baseline":"top","fontSize":13,"dy":8,"color":"#231f20","lineHeight":14},"encoding":{"x":{"datum":1765},"y":{"datum":450}}}
   ]},
   {"width":152,"height":102,"layer":[
    {"data":{"name":"fish"},"encoding":{
      "x":{"field":"year","type":"quantitative","scale":{"domain":[1750,2010],"nice":false,"zero":false},"axis":{"title":"Year","format":"d","tickCount":20,"values":[1750,1800,1850,1900,1950,2000,2010],"labelFlush":false,"labelOverlap":false,"titleY":20,"titleFontWeight":"bold","titleFontSize":7,"labelFontSize":{"condition":{"test":"datum.value===1950","value":9.5},"value":7},"labelPadding":{"condition":{"test":"datum.value===2010","value":10},"value":2}}},
      "y":{"field":"value","type":"quantitative","scale":{"domain":[0,80],"nice":false,"zero":false},"axis":{"title":"Million tonnes","format":".4~g","tickCount":20,"values":[0,10,20,30,40,50,60,70,80],"labelOverlap":false}}},
     "layer":[
      {"mark":{"type":"area","opacity":1,"clip":true,"fill":{"gradient":"linear","x1":0,"y1":0,"x2":1,"y2":0,"stops":[{"offset":0,"color":"#ffffff"},{"offset":0.35,"color":"#f4f6fb"},{"offset":0.7,"color":"#aebfe2"},{"offset":1,"color":"#1b5cac"}]}},"encoding":{"y2":{"datum":0}}},
      {"mark":{"type":"line","color":"#1d2c78","strokeWidth":1.5,"clip":true}}]},
    {"data":{"values":[{}]},"mark":{"type":"rule","strokeDash":[2,2],"color":"#6d6d6d","strokeWidth":1.2},"encoding":{"x":{"datum":1950}}},
    {"data":{"values":[{}]},"mark":{"type":"text","text":["Marine fish","capture"],"align":"left","baseline":"top","fontSize":13,"dy":8,"color":"#231f20","lineHeight":14},"encoding":{"x":{"datum":1765},"y":{"datum":80}}}
   ]},
   {"width":152,"height":102,"layer":[
    {"data":{"name":"shrimp"},"encoding":{
      "x":{"field":"year","type":"quantitative","scale":{"domain":[1750,2010],"nice":false,"zero":false},"axis":{"title":"Year","format":"d","tickCount":20,"values":[1750,1800,1850,1900,1950,2000,2010],"labelFlush":false,"labelOverlap":false,"titleY":20,"titleFontWeight":"bold","titleFontSize":7,"labelFontSize":{"condition":{"test":"datum.value===1950","value":9.5},"value":7},"labelPadding":{"condition":{"test":"datum.value===2010","value":10},"value":2}}},
      "y":{"field":"value","type":"quantitative","scale":{"domain":[0,4],"nice":false,"zero":false},"axis":{"title":"Million tonnes","format":".4~g","tickCount":20,"values":[0,1,2,3,4],"labelOverlap":false}}},
     "layer":[
      {"mark":{"type":"area","opacity":1,"clip":true,"fill":{"gradient":"linear","x1":0,"y1":0,"x2":1,"y2":0,"stops":[{"offset":0,"color":"#ffffff"},{"offset":0.35,"color":"#f4f6fb"},{"offset":0.7,"color":"#aebfe2"},{"offset":1,"color":"#1b5cac"}]}},"encoding":{"y2":{"datum":0}}},
      {"mark":{"type":"line","color":"#1d2c78","strokeWidth":1.5,"clip":true}}]},
    {"data":{"values":[{}]},"mark":{"type":"rule","strokeDash":[2,2],"color":"#6d6d6d","strokeWidth":1.2},"encoding":{"x":{"datum":1950}}},
    {"data":{"values":[{}]},"mark":{"type":"text","text":["Shrimp","aquaculture"],"align":"left","baseline":"top","fontSize":13,"dy":8,"color":"#231f20","lineHeight":14},"encoding":{"x":{"datum":1765},"y":{"datum":4}}}
   ]},
   {"width":139,"height":102,"layer":[
    {"data":{"name":"nitrogen"},"encoding":{
      "x":{"field":"year","type":"quantitative","scale":{"domain":[1750,1988],"nice":false,"zero":false},"axis":{"title":"Year","format":"d","tickCount":20,"values":[1750,1800,1850,1900,1950],"labelFlush":false,"labelOverlap":false,"titleY":20,"titleFontWeight":"bold","titleFontSize":7,"labelFontSize":{"condition":{"test":"datum.value===1950","value":9.5},"value":7},"labelPadding":2}},
      "y":{"field":"value","type":"quantitative","scale":{"domain":[0,100],"nice":false,"zero":false},"axis":{"title":"Human N flux, Mtons yr⁻¹","format":".4~g","tickCount":20,"values":[0,20,40,60,80,100],"labelOverlap":false}}},
     "layer":[
      {"mark":{"type":"area","opacity":1,"clip":true,"fill":{"gradient":"linear","x1":0,"y1":0,"x2":1,"y2":0,"stops":[{"offset":0,"color":"#ffffff"},{"offset":0.35,"color":"#f4f6fb"},{"offset":0.7,"color":"#aebfe2"},{"offset":1,"color":"#1b5cac"}]}},"encoding":{"y2":{"datum":0}}},
      {"mark":{"type":"line","color":"#1d2c78","strokeWidth":1.5,"clip":true}}]},
    {"data":{"values":[{}]},"mark":{"type":"rule","strokeDash":[2,2],"color":"#6d6d6d","strokeWidth":1.2},"encoding":{"x":{"datum":1950}}},
    {"data":{"values":[{}]},"mark":{"type":"text","text":["Nitrogen to","coastal zone"],"align":"left","baseline":"top","fontSize":13,"dy":8,"color":"#231f20","lineHeight":14},"encoding":{"x":{"datum":1765},"y":{"datum":100}}}
   ]},

   {"width":152,"height":102,"layer":[
    {"data":{"name":"transport"},"transform":[{"fold":["OECD","BRICS","Others"],"as":["group","value"]},{"lookup":"group","from":{"data":{"name":"groups"},"key":"group","fields":["k"]}}],
     "mark":{"type":"area","opacity":1,"clip":true},
     "encoding":{
      "x":{"field":"year","type":"quantitative","scale":{"domain":[1750,2010],"nice":false,"zero":false},"axis":{"title":"Year","format":"d","tickCount":20,"values":[1750,1800,1850,1900,1950,2000,2010],"labelFlush":false,"labelOverlap":false,"titleY":20,"titleFontWeight":"bold","titleFontSize":7,"labelFontSize":{"condition":{"test":"datum.value===1950","value":9.5},"value":7},"labelPadding":{"condition":{"test":"datum.value===2010","value":10},"value":2}}},
      "y":{"field":"value","type":"quantitative","stack":"zero","scale":{"domain":[0,1400],"nice":false},"axis":{"title":"Million motor vehicles","format":"d","tickCount":20,"values":[0,200,400,600,800,1000,1200,1400],"labelOverlap":false}},
      "color":{"field":"group","type":"nominal","scale":{"domain":["OECD","BRICS","Others"],"range":["#f08c68","#f6b48a","#fbd6bb"]},"legend":{"title":null}},
      "order":{"field":"k","type":"quantitative"}}},
    {"data":{"values":[{}]},"mark":{"type":"rule","strokeDash":[2,2],"color":"#6d6d6d","strokeWidth":1.2},"encoding":{"x":{"datum":1950}}},
    {"data":{"values":[{}]},"mark":{"type":"text","text":"Transportation","align":"left","baseline":"top","fontSize":13,"dy":8,"color":"#231f20","lineHeight":14},"encoding":{"x":{"datum":1765},"y":{"datum":1400}}}
   ]},
   {"width":152,"height":102,"layer":[
    {"data":{"name":"telecom"},"transform":[{"fold":["OECD","BRICS","Others"],"as":["group","value"]},{"lookup":"group","from":{"data":{"name":"groups"},"key":"group","fields":["k"]}}],
     "mark":{"type":"area","opacity":1,"clip":true},
     "encoding":{
      "x":{"field":"year","type":"quantitative","scale":{"domain":[1750,2010],"nice":false,"zero":false},"axis":{"title":"Year","format":"d","tickCount":20,"values":[1750,1800,1850,1900,1950,2000,2010],"labelFlush":false,"labelOverlap":false,"titleY":20,"titleFontWeight":"bold","titleFontSize":7,"labelFontSize":{"condition":{"test":"datum.value===1950","value":9.5},"value":7},"labelPadding":{"condition":{"test":"datum.value===2010","value":10},"value":2}}},
      "y":{"field":"value","type":"quantitative","stack":"zero","scale":{"domain":[0,7],"nice":false},"axis":{"title":"Billion phone subscriptions","format":".4~g","tickCount":20,"values":[0,1,2,3,4,5,6,7],"labelOverlap":false}},
      "color":{"field":"group","type":"nominal","scale":{"domain":["OECD","BRICS","Others"],"range":["#f08c68","#f6b48a","#fbd6bb"]},"legend":{"title":null}},
      "order":{"field":"k","type":"quantitative"}}},
    {"data":{"values":[{}]},"mark":{"type":"rule","strokeDash":[2,2],"color":"#6d6d6d","strokeWidth":1.2},"encoding":{"x":{"datum":1950}}},
    {"data":{"values":[{}]},"mark":{"type":"text","text":"Telecommunications","align":"left","baseline":"top","fontSize":13,"dy":8,"color":"#231f20","lineHeight":14},"encoding":{"x":{"datum":1765},"y":{"datum":7}}}
   ]},
   {"width":142,"height":102,"view":{"stroke":null},"data":{"values":[{}]},"mark":{"type":"point","opacity":0}},
   {"width":152,"height":102,"layer":[
    {"data":{"name":"forest"},"encoding":{
      "x":{"field":"year","type":"quantitative","scale":{"domain":[1750,2010],"nice":false,"zero":false},"axis":{"title":"Year","format":"d","tickCount":20,"values":[1750,1800,1850,1900,1950,2000,2010],"labelFlush":false,"labelOverlap":false,"titleY":20,"titleFontWeight":"bold","titleFontSize":7,"labelFontSize":{"condition":{"test":"datum.value===1950","value":9.5},"value":7},"labelPadding":{"condition":{"test":"datum.value===2010","value":10},"value":2}}},
      "y":{"field":"value","type":"quantitative","scale":{"domain":[0,30],"nice":false,"zero":false},"axis":{"title":"% loss (area)","format":".4~g","tickCount":20,"values":[0,5,10,15,20,25,30],"labelOverlap":false}}},
     "layer":[
      {"mark":{"type":"area","opacity":1,"clip":true,"fill":{"gradient":"linear","x1":0,"y1":0,"x2":1,"y2":0,"stops":[{"offset":0,"color":"#ffffff"},{"offset":0.35,"color":"#f4f6fb"},{"offset":0.7,"color":"#aebfe2"},{"offset":1,"color":"#1b5cac"}]}},"encoding":{"y2":{"datum":0}}},
      {"mark":{"type":"line","color":"#1d2c78","strokeWidth":1.5,"clip":true}}]},
    {"data":{"values":[{}]},"mark":{"type":"rule","strokeDash":[2,2],"color":"#6d6d6d","strokeWidth":1.2},"encoding":{"x":{"datum":1950}}},
    {"data":{"values":[{}]},"mark":{"type":"text","text":["Tropical","forest loss"],"align":"left","baseline":"top","fontSize":13,"dy":8,"color":"#231f20","lineHeight":14},"encoding":{"x":{"datum":1765},"y":{"datum":30}}}
   ]},
   {"width":152,"height":102,"layer":[
    {"data":{"name":"domland"},"encoding":{
      "x":{"field":"year","type":"quantitative","scale":{"domain":[1750,2010],"nice":false,"zero":false},"axis":{"title":"Year","format":"d","tickCount":20,"values":[1750,1800,1850,1900,1950,2000,2010],"labelFlush":false,"labelOverlap":false,"titleY":20,"titleFontWeight":"bold","titleFontSize":7,"labelFontSize":{"condition":{"test":"datum.value===1950","value":9.5},"value":7},"labelPadding":{"condition":{"test":"datum.value===2010","value":10},"value":2}}},
      "y":{"field":"value","type":"quantitative","scale":{"domain":[0,50],"nice":false,"zero":false},"axis":{"title":"% of total land area","format":".4~g","tickCount":20,"values":[0,25,50],"labelOverlap":false}}},
     "layer":[
      {"mark":{"type":"area","opacity":1,"clip":true,"fill":{"gradient":"linear","x1":0,"y1":0,"x2":1,"y2":0,"stops":[{"offset":0,"color":"#ffffff"},{"offset":0.35,"color":"#f4f6fb"},{"offset":0.7,"color":"#aebfe2"},{"offset":1,"color":"#1b5cac"}]}},"encoding":{"y2":{"datum":0}}},
      {"mark":{"type":"line","color":"#1d2c78","strokeWidth":1.5,"clip":true}}]},
    {"data":{"values":[{}]},"mark":{"type":"rule","strokeDash":[2,2],"color":"#6d6d6d","strokeWidth":1.2},"encoding":{"x":{"datum":1950}}},
    {"data":{"values":[{}]},"mark":{"type":"text","text":["Domesticated","land"],"align":"left","baseline":"top","fontSize":13,"dy":8,"color":"#231f20","lineHeight":14},"encoding":{"x":{"datum":1765},"y":{"datum":50}}}
   ]},
   {"width":139,"height":102,"layer":[
    {"data":{"name":"terr"},"encoding":{
      "x":{"field":"year","type":"quantitative","scale":{"domain":[1750,1988],"nice":false,"zero":false},"axis":{"title":"Year","format":"d","tickCount":20,"values":[1750,1800,1850,1900,1950],"labelFlush":false,"labelOverlap":false,"titleY":20,"titleFontWeight":"bold","titleFontSize":7,"labelFontSize":{"condition":{"test":"datum.value===1950","value":9.5},"value":7},"labelPadding":2}},
      "y":{"field":"value","type":"quantitative","scale":{"domain":[0,40],"nice":false,"zero":false},"axis":{"title":"% decr. mean species abundance","format":".4~g","tickCount":20,"values":[0,10,20,30,40],"labelOverlap":false}}},
     "layer":[
      {"mark":{"type":"area","opacity":1,"clip":true,"fill":{"gradient":"linear","x1":0,"y1":0,"x2":1,"y2":0,"stops":[{"offset":0,"color":"#ffffff"},{"offset":0.35,"color":"#f4f6fb"},{"offset":0.7,"color":"#aebfe2"},{"offset":1,"color":"#1b5cac"}]}},"encoding":{"y2":{"datum":0}}},
      {"mark":{"type":"line","color":"#1d2c78","strokeWidth":1.5,"clip":true}}]},
    {"data":{"values":[{}]},"mark":{"type":"rule","strokeDash":[2,2],"color":"#6d6d6d","strokeWidth":1.2},"encoding":{"x":{"datum":1950}}},
    {"data":{"values":[{}]},"mark":{"type":"text","text":["Terrestrial","biosphere","degradation"],"align":"left","baseline":"top","fontSize":13,"dy":8,"color":"#231f20","lineHeight":14},"encoding":{"x":{"datum":1765},"y":{"datum":40}}}
   ]}
  ]}
]
}
